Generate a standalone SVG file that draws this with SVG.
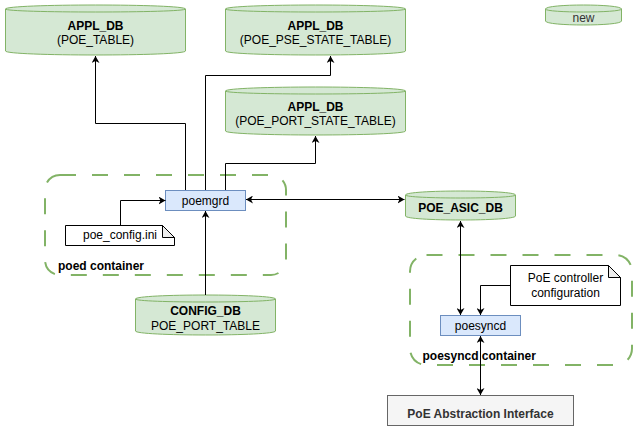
<svg xmlns="http://www.w3.org/2000/svg" width="637" height="432" viewBox="0 0 637 432">
<defs>
<marker id="ah" viewBox="0 0 7 8" refX="7" refY="4" markerWidth="7" markerHeight="8" markerUnits="userSpaceOnUse" orient="auto-start-reverse">
<path d="M0,0 L7,4 L0,8 L2,4 Z" fill="#000"/>
</marker>
<style>
text{font-family:"Liberation Sans",Arial,sans-serif;font-size:12px;fill:#000;text-anchor:middle}
.b{font-weight:bold}
.l{text-anchor:start}
.cyl{fill:#d5e8d4;stroke:#82b366;stroke-width:1}
.inner{fill:none;stroke:#82b366;stroke-width:1}
.blue{fill:#dae8fc;stroke:#6c8ebf;stroke-width:1}
.gray{fill:#f5f5f5;stroke:#666666;stroke-width:1}
.note{fill:#ffffff;stroke:#000;stroke-width:1}
.fold{fill:#ededed;stroke:#000;stroke-width:1}
.cont{fill:none;stroke:#82b366;stroke-width:2;stroke-dasharray:16 16}
.c{fill:none;stroke:#000;stroke-width:1}
</style>
</defs>
<rect width="637" height="432" fill="#ffffff"/>

<g id="poed_container">
<rect class="cont" x="45" y="175" width="241" height="100" rx="15" ry="15"/>
<text class="b l" x="58" y="269.5">poed container</text>
</g>
<g id="poesyncd_container">
<rect class="cont" x="410" y="255" width="222" height="110" rx="16.5" ry="16.5"/>
</g>

<g id="appl_poe_table">
<path class="cyl" d="M5.5,9 C5.5,3.67 185.5,3.67 185.5,9 L185.5,51 C185.5,56.33 5.5,56.33 5.5,51 Z"/>
<path class="inner" d="M5.5,9 C5.5,13 185.5,13 185.5,9"/>
<text class="b" x="95.5" y="29.5">APPL_DB</text>
<text x="95.5" y="44">(POE_TABLE)</text>
</g>

<g id="appl_pse_state">
<path class="cyl" d="M225.5,9 C225.5,3.67 405.5,3.67 405.5,9 L405.5,51 C405.5,56.33 225.5,56.33 225.5,51 Z"/>
<path class="inner" d="M225.5,9 C225.5,13 405.5,13 405.5,9"/>
<text class="b" x="315.5" y="29.5">APPL_DB</text>
<text x="315.5" y="44">(POE_PSE_STATE_TABLE)</text>
</g>

<g id="appl_port_state">
<path class="cyl" d="M225.5,91 C225.5,85.67 405.5,85.67 405.5,91 L405.5,131 C405.5,136.33 225.5,136.33 225.5,131 Z"/>
<path class="inner" d="M225.5,91 C225.5,95 405.5,95 405.5,91"/>
<text class="b" x="315.5" y="110.5">APPL_DB</text>
<text x="315.5" y="125">(POE_PORT_STATE_TABLE)</text>
</g>

<g id="new_legend">
<path class="cyl" d="M545.5,9 C545.5,3.67 621.5,3.67 621.5,9 L621.5,21 C621.5,26.33 545.5,26.33 545.5,21 Z"/>
<path class="inner" d="M545.5,9 C545.5,13 621.5,13 621.5,9"/>
<text x="583.5" y="21.5" style="fill:#333333">new</text>
</g>

<g id="poemgrd">
<rect class="blue" x="165.5" y="190.5" width="80" height="20"/>
<text x="205.5" y="204.5">poemgrd</text>
</g>

<g id="poe_config_ini">
<path class="note" d="M65.5,225.5 H162.5 L174.5,237.5 V245.5 H65.5 Z"/>
<path class="fold" d="M162.5,225.5 V237.5 H174.5 Z"/>
<text x="120" y="238.5">poe_config.ini</text>
</g>

<g id="config_db">
<path class="cyl" d="M135.5,299 C135.5,293.67 275.5,293.67 275.5,299 L275.5,331 C275.5,336.33 135.5,336.33 135.5,331 Z"/>
<path class="inner" d="M135.5,299 C135.5,303 275.5,303 275.5,299"/>
<text class="b" x="205.5" y="315">CONFIG_DB</text>
<text x="205.5" y="329.5">POE_PORT_TABLE</text>
</g>

<g id="poe_asic_db">
<path class="cyl" d="M405.5,195 C405.5,189.67 515.5,189.67 515.5,195 L515.5,216 C515.5,221.33 405.5,221.33 405.5,216 Z"/>
<path class="inner" d="M405.5,195 C405.5,199 515.5,199 515.5,195"/>
<text class="b" x="460.5" y="211.5">POE_ASIC_DB</text>
</g>

<g id="poe_controller_config">
<path class="note" d="M510.5,265.5 H608.5 L620.5,277.5 V305.5 H510.5 Z"/>
<path class="fold" d="M608.5,265.5 V277.5 H620.5 Z"/>
<text x="565.5" y="282">PoE controller</text>
<text x="565.5" y="296.5">configuration</text>
</g>

<g id="poesyncd">
<rect class="blue" x="440.5" y="315.5" width="80" height="20"/>
<text x="480.5" y="329.5">poesyncd</text>
</g>

<g id="poe_abstraction">
<rect class="gray" x="387.5" y="395.5" width="186" height="30"/>
<text class="b" x="480.5" y="418" style="fill:#333333">PoE Abstraction Interface</text>
</g>

<g id="connectors">
<path class="c" d="M185.5,190 V123.5 H95.5 V56" marker-end="url(#ah)"/>
<path class="c" d="M205.5,190 V75.5 H330.5 V56" marker-end="url(#ah)"/>
<path class="c" d="M225.5,190 V163.5 H315.5 V136" marker-end="url(#ah)"/>
<path class="c" d="M120.5,225 V200.5 H165.5" marker-end="url(#ah)"/>
<path class="c" d="M205.5,295 V211" marker-end="url(#ah)"/>
<path class="c" d="M246,199.5 H404.5" marker-start="url(#ah)" marker-end="url(#ah)"/>
<path class="c" d="M460.5,221 V315" marker-start="url(#ah)" marker-end="url(#ah)"/>
<path class="c" d="M510,285.5 H480.5 V315" marker-end="url(#ah)"/>
<path class="c" d="M480.5,336 V395" marker-start="url(#ah)" marker-end="url(#ah)"/>
</g>

<g id="poesyncd_label">
<text class="b l" x="422.5" y="359.5">poesyncd container</text>
</g>
</svg>
